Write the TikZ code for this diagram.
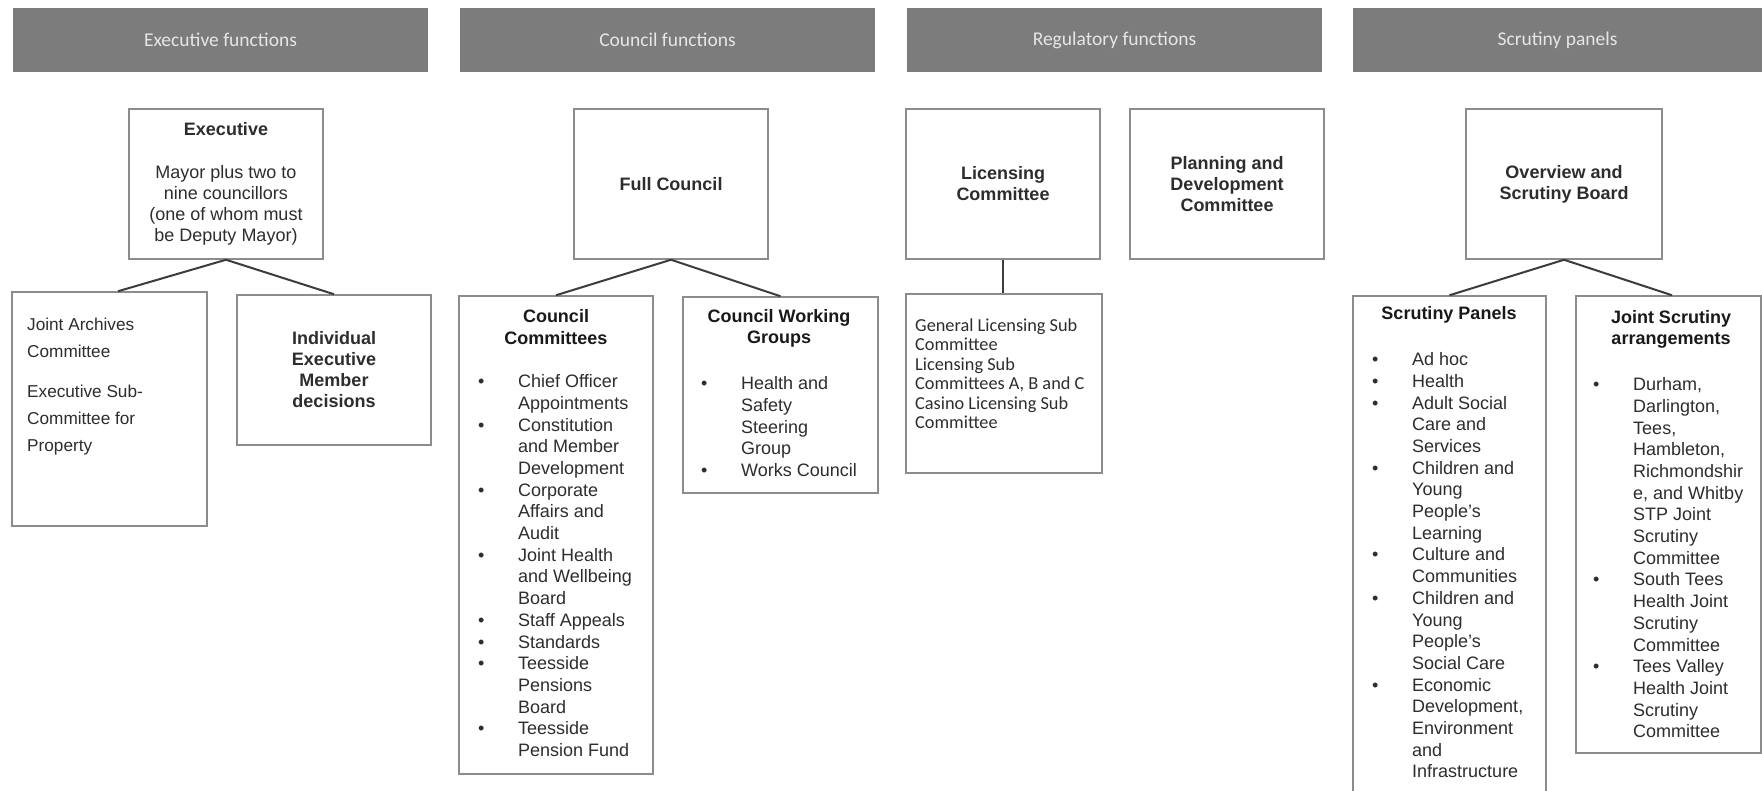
\documentclass[tikz,border=0pt]{standalone}
\usepackage{fontspec}
\setmainfont{Liberation Sans}
\newfontfamily\carl{Carlito}
\definecolor{barc}{RGB}{124,124,124}
\definecolor{bartxt}{RGB}{230,230,230}
\definecolor{boxc}{RGB}{140,140,140}
\definecolor{linec}{RGB}{60,60,60}
\definecolor{txtc}{RGB}{45,45,45}
\newlength{\bind}\setlength{\bind}{40pt}
\newcommand{\bi}[1]{\makebox[\bind][l]{\textbullet}#1}
\newcommand{\ct}[1]{\hspace*{\bind}#1}
\begin{document}
\begin{tikzpicture}[x=1pt,y=-1pt,
  bar/.style={fill=barc, draw=none, text=bartxt, font=\carl\fontsize{19.5}{22}\selectfont, inner sep=0},
  box/.style={draw=boxc, line width=1.5pt, fill=white, inner sep=0, align=center, text=txtc, font=\fontsize{18}{21}\selectfont},
  conn/.style={draw=linec, line width=2pt},
  txt/.style={inner sep=0, anchor=north west, align=left, text=txtc, font=\fontsize{18}{21.7}\selectfont},
  ttl/.style={inner sep=0, align=center, text=black!90, font=\fontsize{18}{21.5}\selectfont\bfseries},
]
\clip (0,0) rectangle (1762,790);
\fill[white] (0,0) rectangle (1762,790);

% header bars
\node[bar, minimum width=415pt, minimum height=64pt] (b1) at (220.5,40) {Executive functions};
\node[bar, minimum width=415pt, minimum height=64pt] (b2) at (667.5,40) {Council functions};
\node[bar, minimum width=415pt, minimum height=64pt] (b3) at (1114.5,40) {Regulatory functions};
\node[bar, minimum width=409pt, minimum height=64pt] (b4) at (1557.5,40) {Scrutiny panels};

% column 1
\node[box, minimum width=194pt, minimum height=150pt] (exec) at (226,184)
  {\textbf{Executive}\\[22pt]Mayor plus two to\\nine councillors\\(one of whom must\\be Deputy Mayor)};
\node[box, minimum width=195pt, minimum height=234pt] (ja) at (109.5,409) {};
\node[box, minimum width=194pt, minimum height=150pt] (ind) at (334,370)
  {\textbf{Individual}\\\textbf{Executive}\\\textbf{Member}\\\textbf{decisions}};
\node[txt, font=\fontsize{17.2}{27}\selectfont] (jat) at (27,317.5)
  {Joint Archives\\Committee\\[13pt]Executive Sub-\\Committee for\\Property};
\draw[conn] (exec.south) -- ([xshift=8.5pt]ja.north);
\draw[conn] (exec.south) -- (ind.north);

% column 2
\node[box, minimum width=194pt, minimum height=150pt] (fc) at (671,184) {\textbf{Full Council}};
\node[box, minimum width=194pt, minimum height=478pt] (cc) at (556,535) {};
\node[box, minimum width=195pt, minimum height=196pt] (cwg) at (780.5,395) {};
\node[ttl] (cct) at (556,327) {Council\\Committees};
\node[txt] (ccl) at (478,374.4)
  {\bi{Chief Officer}\\\ct{Appointments}\\\bi{Constitution}\\\ct{and Member}\\\ct{Development}\\\bi{Corporate}\\\ct{Affairs and}\\\ct{Audit}\\\bi{Joint Health}\\\ct{and Wellbeing}\\\ct{Board}\\\bi{Staff Appeals}\\\bi{Standards}\\\bi{Teesside}\\\ct{Pensions}\\\ct{Board}\\\bi{Teesside}\\\ct{Pension Fund}};
\node[ttl] (cwgt) at (779,328.5) {Council Working\\Groups};
\node[txt] (cwgl) at (701,376.4)
  {\bi{Health and}\\\ct{Safety}\\\ct{Steering}\\\ct{Group}\\\bi{Works Council}};
\draw[conn] (fc.south) -- (cc.north);
\draw[conn] (fc.south) -- (cwg.north);

% column 3
\node[box, minimum width=194pt, minimum height=150pt] (lic) at (1003,184)
  {\textbf{Licensing}\\\textbf{Committee}};
\node[box, minimum width=194pt, minimum height=150pt] (plan) at (1227,184)
  {\textbf{Planning and}\\\textbf{Development}\\\textbf{Committee}};
\node[box, minimum width=196pt, minimum height=179pt] (gen) at (1004,383.5) {};
\node[txt, font=\carl\fontsize{18.3}{19.4}\selectfont] (gent) at (915,318.5)
  {General Licensing Sub\\Committee\\Licensing Sub\\Committees A, B and C\\Casino Licensing Sub\\Committee};
\draw[conn] (lic.south) -- (lic.south |- gen.north);

% column 4
\node[box, minimum width=196pt, minimum height=150pt] (osb) at (1564,184)
  {\textbf{Overview and}\\\textbf{Scrutiny Board}};
\node[box, minimum width=193pt, minimum height=534pt] (sp) at (1449.5,563) {};
\node[box, minimum width=185pt, minimum height=457pt] (js) at (1668.5,524.5) {};
\node[ttl] (spt) at (1449,315) {Scrutiny Panels};
\node[txt] (spl) at (1372,352.4)
  {\bi{Ad hoc}\\\bi{Health}\\\bi{Adult Social}\\\ct{Care and}\\\ct{Services}\\\bi{Children and}\\\ct{Young}\\\ct{People's}\\\ct{Learning}\\\bi{Culture and}\\\ct{Communities}\\\bi{Children and}\\\ct{Young}\\\ct{People's}\\\ct{Social Care}\\\bi{Economic}\\\ct{Development,}\\\ct{Environment}\\\ct{and}\\\ct{Infrastructure}};
\node[ttl] (jst) at (1671,329.5) {Joint Scrutiny\\arrangements};
\node[txt] (jsl) at (1593,377.4)
  {\bi{Durham,}\\\ct{Darlington,}\\\ct{Tees,}\\\ct{Hambleton,}\\\ct{Richmondshir}\\\ct{e, and Whitby}\\\ct{STP Joint}\\\ct{Scrutiny}\\\ct{Committee}\\\bi{South Tees}\\\ct{Health Joint}\\\ct{Scrutiny}\\\ct{Committee}\\\bi{Tees Valley}\\\ct{Health Joint}\\\ct{Scrutiny}\\\ct{Committee}};
\draw[conn] (osb.south) -- (sp.north);
\draw[conn] (osb.south) -- ([xshift=3.5pt]js.north);
\end{tikzpicture}
\end{document}
